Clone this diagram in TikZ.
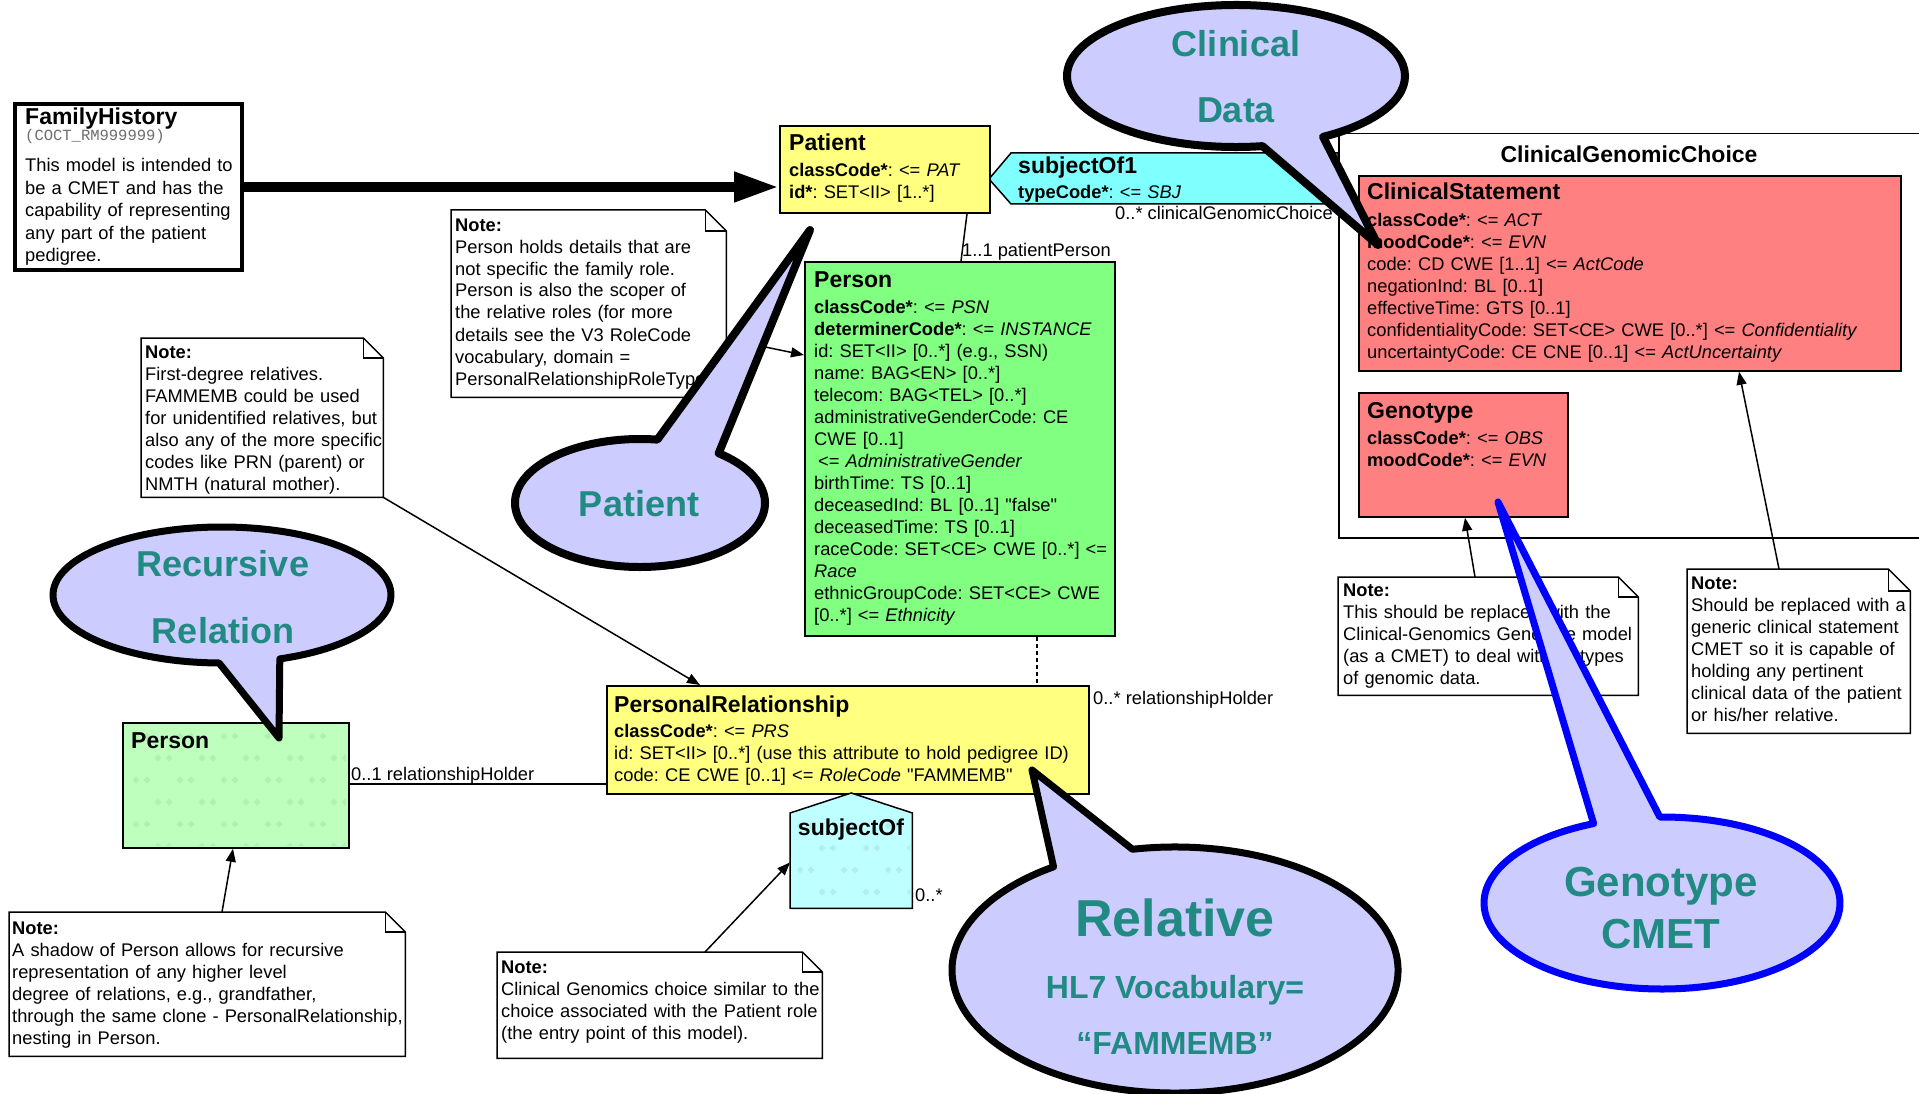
\documentclass[tikz,border=0pt]{standalone}
\usepackage{fontspec}
\setmainfont{Liberation Sans}
\newfontfamily\monofam{Liberation Mono}
\usetikzlibrary{arrows.meta,calc}
\definecolor{yel}{RGB}{255,255,128}
\definecolor{grn}{RGB}{128,255,128}
\definecolor{cyn}{RGB}{128,255,255}
\definecolor{sal}{RGB}{255,128,128}
\definecolor{lgrn}{RGB}{190,255,190}
\definecolor{lcyn}{RGB}{190,255,255}
\definecolor{dgrn}{RGB}{176,240,176}
\definecolor{dcyn}{RGB}{176,238,242}
\definecolor{lav}{RGB}{204,204,255}
\definecolor{tealc}{RGB}{33,138,130}
\definecolor{grayc}{RGB}{110,110,110}
\newcommand\mknote[6]{%
  \node[inner sep=0pt, minimum width=#4pt, minimum height=#5pt, anchor=north west] (#1) at (#2,#3) {};
  \draw[notestyle] (#1.north west) -- ($(#1.north east)+(-#6,0)$) -- ($(#1.north east)+(0,#6)$) -- (#1.south east) -- (#1.south west) -- cycle;
  \draw[notestyle, fill=none] ($(#1.north east)+(-#6,0)$) -- ($(#1.north east)+(-#6,#6)$) -- ($(#1.north east)+(0,#6)$);
}
\newcommand\dia[3]{\fill[#1] (#2,#3) +(-3.5,0) -- +(0,-3.5) -- +(3.5,0) -- +(0,3.5) -- cycle;}
\begin{document}
\frenchspacing
\begin{tikzpicture}[x=1pt,y=-1pt,
  box/.style={draw=black, line width=1.8pt, inner sep=0pt, anchor=north west},
  ttl/.style={anchor=base west, inner sep=0pt, font=\fontsize{23}{27}\selectfont\bfseries},
  att/.style={anchor=base west, inner sep=0pt, align=left, text width=480pt, font=\frenchspacing\fontsize{18.3}{22}\selectfont},
  lbl/.style={anchor=base west, inner sep=0pt, font=\fontsize{18.3}{22}\selectfont},
  conn/.style={line width=1.5pt},
  arr/.style={line width=1.5pt, -{Triangle[length=13pt,width=10pt]}},
  notestyle/.style={draw=black, fill=white, line width=1.5pt},
  callout/.style={draw=black, fill=lav, line width=8pt, line join=round},
  big/.style={text=tealc, anchor=base, inner sep=0pt, font=\fontsize{36}{40}\selectfont\bfseries}]
\useasboundingbox (0,0) rectangle (1919,1094);
\clip (0,0) rectangle (1919,1094);
\fill[white] (0,0) rectangle (1919,1094);

% ---------- class boxes ----------
\node[box, line width=4pt, fill=white, minimum width=227pt, minimum height=166pt] (fh) at (13,102) {};
\node[ttl] (fht) at (25,125) {FamilyHistory};
\node[anchor=base west, inner sep=0pt, text=grayc, font=\monofam\fontsize{15.5}{17}\selectfont] (fhc) at (25,141) {(COCT\_RM999999)};
\node[att, font=\frenchspacing\fontsize{18.3}{22.5}\selectfont] (fhb) at (25,172) {This model is intended to\\be a CMET and has the\\capability of representing\\any part of the patient\\pedigree.};

\node[box, fill=white, line width=1.5pt, minimum width=600pt, minimum height=404pt] (cgc) at (1338,133) {};
\node[ttl, anchor=base] (cgct) at (1629,163) {ClinicalGenomicChoice};

\node[box, fill=sal, minimum width=542pt, minimum height=195pt] (cs) at (1358,175) {};
\node[ttl] (cst) at (1367,200) {ClinicalStatement};
\node[att, text width=540pt] (csa) at (1367,226) {\textbf{classCode*}: <= \textit{ACT}\\\textbf{moodCode*}: <= \textit{EVN}\\code: CD CWE [1..1] <= \textit{ActCode}\\negationInd: BL [0..1]\\effectiveTime: GTS [0..1]\\confidentialityCode: SET<CE> CWE [0..*] <= \textit{Confidentiality}\\uncertaintyCode: CE CNE [0..1] <= \textit{ActUncertainty}};

\node[box, fill=sal, minimum width=209pt, minimum height=124pt] (geno) at (1358,392) {};
\node[ttl] (genot) at (1367,418) {Genotype};
\node[att, text width=200pt] (genoa) at (1367,444) {\textbf{classCode*}: <= \textit{OBS}\\\textbf{moodCode*}: <= \textit{EVN}};

% subjectOf1 act relationship
\draw[line width=1.5pt, fill=cyn] (989,179) -- (1011,153) -- (1338,153) -- (1338,204) -- (1011,204) -- cycle;
\node[ttl] (s1t) at (1018,174) {subjectOf1};
\node[att] (s1a) at (1018,199) {\textbf{typeCode*}: <= \textit{SBJ}};
\node[lbl, anchor=base east] (s1l) at (1333,219) {0..* clinicalGenomicChoice};

\node[box, fill=yel, minimum width=210pt, minimum height=87pt] (patient) at (779,125) {};
\node[ttl] (patt) at (789,151) {Patient};
\node[att] (pata) at (789,177) {\textbf{classCode*}: <= \textit{PAT}\\\textbf{id*}: SET<II> [1..*]};

\node[box, fill=grn, minimum width=310pt, minimum height=374pt] (person) at (804,261) {};
\node[ttl] (pert) at (814,287) {Person};
\node[att] (pera) at (814,313) {\textbf{classCode*}: <= \textit{PSN}\\\textbf{determinerCode*}: <= \textit{INSTANCE}\\id: SET<II> [0..*] (e.g., SSN)\\name: BAG<EN> [0..*]\\telecom: BAG<TEL> [0..*]\\administrativeGenderCode: CE\\CWE [0..1]\\\hspace*{4pt}<= \textit{AdministrativeGender}\\birthTime: TS [0..1]\\deceasedInd: BL [0..1] \textquotedbl false\textquotedbl\\deceasedTime: TS [0..1]\\raceCode: SET<CE> CWE [0..*] <=\\\textit{Race}\\ethnicGroupCode: SET<CE> CWE\\{[}0..*{]} <= \textit{Ethnicity}};

\node[box, fill=yel, minimum width=482pt, minimum height=108pt] (prel) at (606,685) {};
\node[ttl] (prelt) at (614,712) {PersonalRelationship};
\node[att] (prela) at (614,737) {\textbf{classCode*}: <= \textit{PRS}\\id: SET<II> [0..*] (use this attribute to hold pedigree ID)\\code: CE CWE [0..1] <= \textit{RoleCode} \textquotedbl FAMMEMB\textquotedbl};

\node[box, fill=lgrn, minimum width=226pt, minimum height=125pt] (shadow) at (122,722) {};
\begin{scope}
\clip (124,724) rectangle (346,845);
\foreach \x in {136,180,...,340} \foreach \y in {736,780,...,846} {\dia{dgrn}{\x}{\y}\dia{dgrn}{\x+11}{\y}\dia{dgrn}{\x+22}{\y+22}\dia{dgrn}{\x+33}{\y+22}}
\end{scope}
\node[ttl] (shadowt) at (131,748) {Person};

\node[inner sep=0pt, minimum width=122pt, minimum height=115pt, anchor=north west] (subj) at (790,793) {};
\draw[line width=1.5pt, fill=lcyn] (subj.south west) -- ($(subj.north west)+(0,20)$) -- (subj.north) -- ($(subj.north east)+(0,20)$) -- (subj.south east) -- cycle;
\begin{scope}
\clip (792,815) rectangle (910,906);
\foreach \x in {800,844,...,910} \foreach \y in {826,870,...,910} {\dia{dcyn}{\x}{\y}\dia{dcyn}{\x+11}{\y}\dia{dcyn}{\x+22}{\y+22}\dia{dcyn}{\x+33}{\y+22}}
\end{scope}
\node[ttl, anchor=base] (subjt) at (851,835) {subjectOf};

% ---------- notes ----------
\mknote{note1}{451}{210}{275}{187}{21}
\node[att] (note1t) at (455,231) {\textbf{Note:}\\Person holds details that are\\not specific the family role.\\Person is also the scoper of\\the relative roles (for more\\details see the V3 RoleCode\\vocabulary, domain =\\PersonalRelationshipRoleType)};
\mknote{note2}{141}{338}{242}{159}{20}
\node[att] (note2t) at (145,358) {\textbf{Note:}\\First-degree relatives.\\FAMMEMB could be used\\for unidentified relatives, but\\also any of the more specific\\codes like PRN (parent) or\\NMTH (natural mother).};
\mknote{note3}{9}{912}{396}{144}{20}
\node[att] (note3t) at (12,934) {\textbf{Note:}\\A shadow of Person allows for recursive\\representation of any higher level\\degree of relations, e.g., grandfather,\\through the same clone - PersonalRelationship,\\nesting in Person.};
\mknote{note4}{497}{952}{325}{106}{20}
\node[att] (note4t) at (501,973) {\textbf{Note:}\\Clinical Genomics choice similar to the\\choice associated with the Patient role\\(the entry point of this model).};
\mknote{note5}{1338}{577}{300}{118}{20}
\node[att, text width=300pt] (note5t) at (1343,596) {\textbf{Note:}\\This should be replaced with the\\Clinical-Genomics Genotype model\\(as a CMET) to deal with all types\\of genomic data.};
\mknote{note6}{1687}{569}{223}{164}{22}
\node[att, text width=226pt] (note6t) at (1691,589) {\textbf{Note:}\\Should be replaced with a\\generic clinical statement\\CMET so it is capable of\\holding any pertinent\\clinical data of the patient\\or his/her relative.};

% ---------- connectors ----------
\draw[line width=10pt, -{Triangle[length=45pt,width=28pt]}] (fh.east) -- (fh.east -| patient.west);
\draw[conn] ($(patient.south west)+(188,0)$) -- ($(person.north west)+(157,0)$);
\node[lbl] (ppl) at (962,256) {1..1 patientPerson};
\draw[conn, dash pattern=on 4pt off 3pt] ($(person.south west)+(233,0)$) -- ($(prel.north west)+(431,0)$);
\node[lbl] (rhl) at (1093,704) {0..* relationshipHolder};
\draw[conn] ($(shadow.north east)+(0,62)$) -- ($(prel.north west)+(0,99)$);
\node[lbl] (rhl2) at (351,780) {0..1 relationshipHolder};
\node[lbl] (subjl) at (915,901) {0..*};
\draw[arr] (note2.south east) -- ($(prel.north west)+(94,0)$);
\draw[arr] ($(note3.north west)+(213,0)$) -- ($(shadow.south west)+(111,0)$);
\draw[arr] ($(note4.north west)+(208,0)$) -- ($(subj.south west)+(0,-46)$);
\draw[arr] ($(note5.north west)+(137,0)$) -- ($(geno.south west)+(107,0)$);
\draw[arr] ($(note6.north west)+(92,0)$) -- ($(cs.south west)+(381,0)$);
\draw[arr] ($(note1.north east)+(0,129)$) -- ($(person.north west)+(0,94)$);

% ---------- callouts ----------
\draw[callout] (810,230) -- ($(640,503)+(-51:125 and 64)$) arc[start angle=-51, end angle=278, x radius=125, y radius=64] -- cycle;
\node[big] (cpat) at (639,516) {Patient};

\draw[callout] (1378,245) -- ($(1236,76)+(81:169 and 71)$) arc[start angle=81, end angle=419, x radius=169, y radius=71] -- cycle;
\node[big] (ccl1) at (1236,57) {Clinical};
\node[big] (ccl2) at (1236,123) {Data};

\draw[callout, line width=7pt] (279,738) -- ($(222,595)+(91:169 and 68)$) arc[start angle=91, end angle=430, x radius=169, y radius=68] -- cycle;
\node[big] (crec1) at (223,576) {Recursive};
\node[big] (crec2) at (223,643) {Relation};

\draw[callout, line width=7pt] (1032,770) -- ($(1175,970)+(259:223 and 123)$) arc[start angle=259, end angle=597, x radius=223, y radius=123] -- cycle;
\node[big, font=\fontsize{52}{56}\selectfont\bfseries] (crel1) at (1175,936) {Relative};
\node[big, font=\fontsize{32}{36}\selectfont\bfseries] (crel2) at (1175,998) {HL7 Vocabulary=};
\node[big, font=\fontsize{32}{36}\selectfont\bfseries] (crel3) at (1175,1054) {“FAMMEMB”};

\draw[callout, draw=blue, line width=7pt] (1498,502) -- ($(1662,903)+(269.3:178 and 86)$) arc[start angle=269.3, end angle=607.4, x radius=178, y radius=86] -- cycle;
\node[big, font=\fontsize{42}{46}\selectfont\bfseries] (cgen1) at (1661,896) {Genotype};
\node[big, font=\fontsize{42}{46}\selectfont\bfseries] (cgen2) at (1661,948) {CMET};
\end{tikzpicture}
\end{document}
